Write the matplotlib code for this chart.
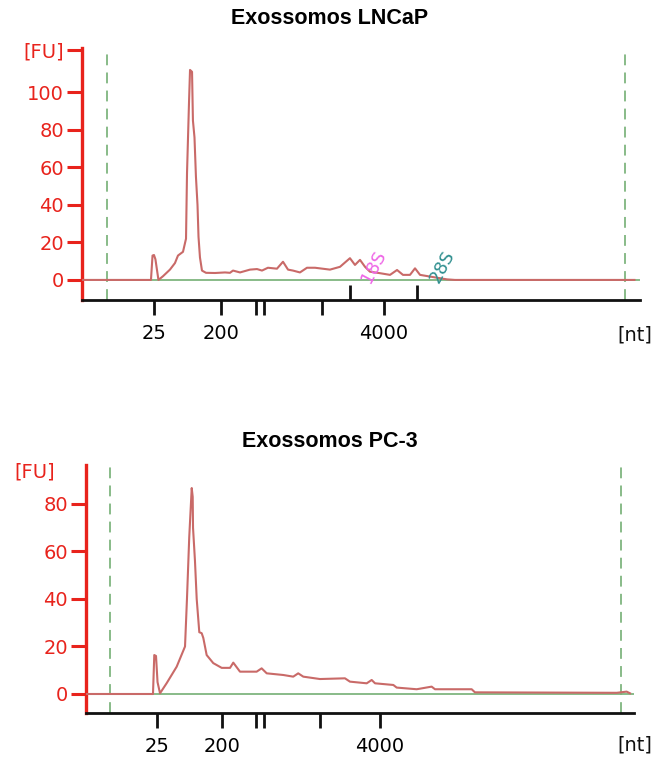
import matplotlib
matplotlib.use("Agg")
import matplotlib.pyplot as plt
from matplotlib.ticker import FixedLocator

plt.rcParams['font.family'] = ['DejaVu Sans']

# migration time (s) and fluorescence (FU)
lncap_t = [20.0, 26.18, 26.32, 26.45, 26.58, 26.85, 27.26, 27.88, 28.33, 28.6, 29.05,
           29.32, 29.41, 29.59, 29.68, 29.86, 29.94, 30.08, 30.21, 30.35, 30.44, 30.57,
           30.75, 31.11, 31.92, 32.81, 33.26, 33.53, 34.16, 35.05, 35.68, 36.13, 36.66,
           37.47, 38.01, 38.46, 38.9, 39.53, 40.16, 40.88, 42.22, 43.12, 44.01, 44.46,
           44.91, 45.36, 45.8, 46.7, 47.6, 48.23, 48.76, 49.39, 49.84, 50.29, 51.18,
           52.71, 53.42, 69.5]
lncap_fu = [0, 0, 13, 13.3, 11, 0, 2, 5.5, 9, 13, 15,
            22, 57, 95, 112, 111, 85, 76, 55, 40, 23, 12,
            5, 3.8, 3.7, 4, 3.8, 5, 4, 5.5, 5.8, 5, 6.5,
            6, 9.7, 5.5, 5, 4, 6.5, 6.5, 5.5, 7, 11.6, 8,
            10.7, 7, 4.4, 3.6, 2.7, 5.3, 2.7, 2.7, 6.2, 2.7, 1.8,
            0.3, 0, 0]

pc3_t = [19.89, 26.08, 26.2, 26.36, 26.5, 26.73, 27.35, 28.27, 29.04, 29.22, 29.43,
         29.66, 29.75, 29.78, 29.96, 30.12, 30.36, 30.58, 30.73, 31.04, 31.65, 32.43,
         33.2, 33.5, 34.12, 35.66, 36.12, 36.59, 38.12, 39.04, 39.5, 39.97, 41.51,
         43.82, 44.28, 45.83, 46.29, 46.6, 48.29, 48.6, 50.45, 51.83, 52.14, 55.53,
         55.83, 68.93, 69.85, 70.16]
pc3_fu = [0, 0, 16.4, 16, 5, 0.3, 4.6, 11.5, 20, 40, 66,
          86.7, 83, 70, 56, 40, 26, 25.6, 23.6, 16.4, 13, 11,
          11, 13.2, 9.4, 9.4, 10.8, 8.7, 8, 7.3, 8.7, 7.3, 6.3,
          6.6, 5.2, 4.5, 5.9, 4.5, 3.8, 2.7, 2, 3.1, 2, 2,
          0.7, 0.5, 1, 0.3]

ladder_t = [26.45, 32.5, 35.6, 36.3, 41.5, 47.06]
ladder_labels = ["25", "200", "", "", "", "4000"]
rrna_t = [44.0, 50.0]
rrna_names = ["18S", "28S"]
rrna_colors = ["#ee66e6", "#2f8f8f"]
rrna_label_shift = [2.1, 2.3]

RED = "#e8231c"
CURVE = "#c96a68"
GREEN = "#7fb57f"

fig = plt.figure(figsize=(6.54, 7.58), dpi=100)
W, H = 654, 758


def panel(box, t, fu, ylim, yticks, xlim, markers, title, title_y, fu_tick):
    l, r, top, bot = box
    ax = fig.add_axes([l / W, 1 - bot / H, (r - l) / W, (bot - top) / H])
    ax.plot(t, fu, color=CURVE, lw=1.5, zorder=3)
    ax.plot([markers[0], xlim[1]], [0, 0], color=GREEN, lw=1.3, zorder=2)
    for m in markers:
        ax.axvline(m, color=GREEN, lw=1.3, ls=(0, (6, 4)), zorder=1)
    ax.set_xlim(*xlim)
    ax.set_ylim(*ylim)
    for s in ("top", "right"):
        ax.spines[s].set_visible(False)
    ax.spines["left"].set_color(RED)
    ax.spines["left"].set_linewidth(2.4)
    ax.spines["bottom"].set_color("#111111")
    ax.spines["bottom"].set_linewidth(2.0)

    yt = list(yticks)
    ylab = [str(v) for v in yticks]
    if fu_tick is not None:
        yt.append(fu_tick)
        ylab.append("[FU]")
    ax.set_yticks(yt)
    ax.set_yticklabels(ylab)
    ax.tick_params(axis="y", colors=RED, length=11, width=2.2, labelsize=14,
                   pad=2)

    ax.set_xticks(ladder_t)
    ax.set_xticklabels(ladder_labels)
    ax.tick_params(axis="x", which="major", direction="out", length=11,
                   width=2.0, labelsize=14, pad=6, color="#111111")
    fig.text(330 / W, 1 - title_y / H, title, fontsize=15.5, fontweight="bold",
             family="Liberation Sans", ha="center", va="center")
    return ax


ax1 = panel((82, 640, 48, 300), lncap_t, lncap_fu, (-10.7, 123.7),
            range(0, 101, 20), (20.0, 70.0), (22.24, 68.65),
            "Exossomos LNCaP", 19, 122.7)
ax1.xaxis.set_minor_locator(FixedLocator(rrna_t))
ax1.tick_params(axis="x", which="minor", direction="in", length=11, width=2.0,
                color="#111111")
for tt, name, c, dx in zip(rrna_t, rrna_names, rrna_colors, rrna_label_shift):
    ax1.text(tt + dx, 7, name, color=c, fontsize=13, rotation=62,
             ha="center", va="center", zorder=4)

ax2 = panel((86, 634, 465, 713), pc3_t, pc3_fu, (-8.0, 96.4),
            range(0, 81, 20), (19.89, 70.53), (22.1, 69.33),
            "Exossomos PC-3", 441, None)

fig.text(14 / W, 1 - 472 / H, "[FU]", color=RED, fontsize=14, va="center")
fig.text(652 / W, 1 - 335 / H, "[nt]", color="#111111", fontsize=14,
         ha="right", va="center")
fig.text(652 / W, 1 - 745 / H, "[nt]", color="#111111", fontsize=14,
         ha="right", va="center")

fig.savefig("out.png", dpi=100)
